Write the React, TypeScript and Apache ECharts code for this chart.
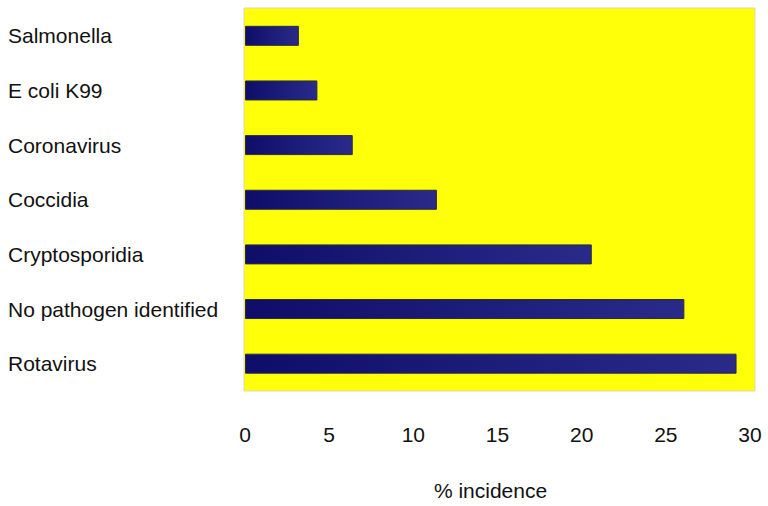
import React, { useEffect, useRef } from "react";
import * as echarts from "echarts";

const categories = [
  "Salmonella",
  "E coli K99",
  "Coronavirus",
  "Coccidia",
  "Cryptosporidia",
  "No pathogen identified",
  "Rotavirus",
];
const incidence = [3.2, 4.3, 6.4, 11.4, 20.6, 26.1, 29.2];
const xTicks = [0, 5, 10, 15, 20, 25, 30];
const xAxisTitle = "% incidence";

export default function App() {
  const ref = useRef<HTMLDivElement>(null);
  useEffect(() => {
    if (!ref.current) return;
    const chart = echarts.init(ref.current, undefined, { renderer: "svg" });
    const font = "'Liberation Sans', Arial, Helvetica, sans-serif";
    chart.setOption({
      animation: false,
      backgroundColor: "#ffffff",
      graphic: [
        {
          type: "rect",
          z: -10,
          shape: { x: 244, y: 8, width: 511, height: 383 },
          style: { fill: "#ffff0a", stroke: "#e0d8b0", lineWidth: 1 },
        },
      ],
      grid: { left: 245, right: 18, top: 8.5, height: 385 },
      xAxis: {
        type: "value",
        min: xTicks[0],
        max: xTicks[xTicks.length - 1],
        interval: 5,
        axisLine: { show: false },
        axisTick: { show: false },
        splitLine: { show: false },
        axisLabel: {
          margin: 33,
          fontSize: 21,
          color: "#111",
          fontFamily: font,
        },
        name: xAxisTitle,
        nameLocation: "middle",
        nameGap: 89,
        nameTextStyle: {
          fontSize: 21,
          color: "#111",
          fontFamily: font,
          padding: [0, 14, 0, 0],
        },
      },
      yAxis: {
        type: "category",
        data: categories,
        inverse: true,
        axisLine: { show: false },
        axisTick: { show: false },
        splitLine: { show: false },
        axisLabel: {
          align: "left",
          margin: 237,
          fontSize: 21,
          color: "#111",
          fontFamily: font,
          padding: [0, 0, 7, 0],
        },
      },
      series: [
        {
          type: "bar",
          data: incidence,
          barWidth: 20,
          z: 2,
          itemStyle: {
            color: new echarts.graphic.LinearGradient(0, 0, 1, 0, [
              { offset: 0, color: "#0e0e6a" },
              { offset: 1, color: "#2a2a88" },
            ]),
            borderColor: "#2a2a48",
            borderWidth: 1,
          },
        },
      ],
    });
    return () => chart.dispose();
  }, []);
  return (
    <div
      ref={ref}
      style={{ position: "fixed", left: 0, top: 0, width: 768, height: 506 }}
    />
  );
}
